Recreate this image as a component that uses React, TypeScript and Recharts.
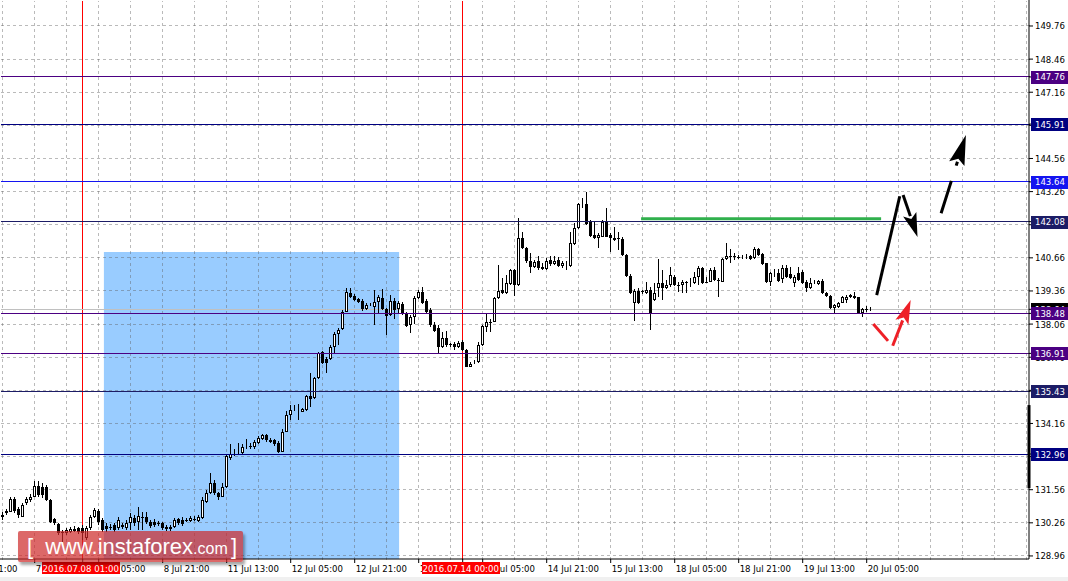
import React from 'react';
import { ComposedChart, Bar, XAxis, YAxis, ReferenceLine, ReferenceArea } from 'recharts';

// H1 bars from 7 Jul 05:00 to 20 Jul 06:00 (2016), [open, high, low, close]
const candles: number[][] = [
  [130.49, 130.69, 130.37, 130.57], [130.64, 130.80, 130.57, 130.74], [130.70, 131.28, 130.69, 131.18], [131.18, 131.28, 130.65, 130.71],
  [130.80, 130.88, 130.45, 130.57], [130.50, 131.04, 130.49, 130.96], [131.04, 131.28, 130.96, 131.20], [131.16, 131.39, 131.08, 131.29],
  [131.29, 131.90, 131.28, 131.71], [131.71, 131.90, 131.28, 131.35], [131.67, 131.82, 131.24, 131.35], [131.67, 131.75, 131.12, 131.16],
  [131.16, 131.20, 130.25, 130.31], [130.41, 130.45, 130.18, 130.27], [130.22, 130.25, 129.78, 129.86], [129.91, 129.98, 129.52, 129.85],
  [129.87, 130.06, 129.78, 129.98], [129.91, 130.10, 129.86, 130.01], [129.95, 130.14, 129.90, 130.03], [130.05, 130.10, 129.82, 129.91],
  [130.06, 130.18, 129.59, 129.87], [129.65, 130.14, 129.59, 130.05], [130.05, 130.57, 129.98, 130.50], [130.50, 130.84, 130.45, 130.77],
  [130.74, 130.80, 130.18, 130.31], [130.37, 130.45, 129.90, 129.98], [130.14, 130.24, 129.91, 130.01], [130.11, 130.22, 129.98, 130.10],
  [130.18, 130.25, 129.90, 129.98], [130.05, 130.48, 129.98, 130.37], [130.18, 130.25, 130.02, 130.09], [130.05, 130.37, 129.98, 130.27],
  [130.24, 130.63, 129.98, 130.48], [130.44, 130.57, 130.14, 130.24], [130.31, 130.89, 129.98, 130.53], [130.48, 130.70, 129.98, 130.46],
  [130.48, 130.70, 130.22, 130.31], [130.31, 130.37, 130.06, 130.14], [130.31, 130.40, 130.10, 130.18], [130.24, 130.33, 130.14, 130.23],
  [130.24, 130.29, 129.98, 130.05], [130.11, 130.18, 129.94, 130.01], [130.02, 130.18, 129.94, 130.10], [130.11, 130.44, 130.06, 130.37],
  [130.40, 130.45, 130.18, 130.24], [130.37, 130.48, 130.14, 130.22], [130.37, 130.45, 130.29, 130.36], [130.35, 130.53, 130.29, 130.44],
  [130.40, 130.53, 130.33, 130.39], [130.35, 130.57, 130.29, 130.48], [130.44, 131.29, 130.41, 131.16], [131.09, 131.55, 131.04, 131.44],
  [131.44, 132.20, 131.39, 131.84], [131.84, 131.94, 131.35, 131.42], [131.42, 131.47, 131.16, 131.29], [131.29, 131.82, 131.28, 131.68],
  [131.68, 132.96, 131.63, 132.88], [132.81, 133.35, 132.73, 132.96], [132.99, 133.15, 132.88, 133.01], [133.00, 133.39, 132.92, 133.03],
  [132.99, 133.35, 132.92, 133.25], [133.24, 133.55, 133.16, 133.26], [133.28, 133.39, 133.16, 133.23], [133.23, 133.51, 133.16, 133.44],
  [133.38, 133.67, 133.35, 133.59], [133.55, 133.75, 133.51, 133.71], [133.71, 133.75, 133.43, 133.51], [133.51, 133.59, 133.39, 133.45],
  [133.51, 133.55, 133.28, 133.35], [133.41, 133.47, 133.00, 133.05], [133.05, 133.93, 133.04, 133.84], [133.84, 134.66, 133.83, 134.49],
  [134.49, 134.89, 134.30, 134.69], [134.68, 134.89, 134.65, 134.70], [134.70, 134.93, 134.30, 134.73], [134.62, 134.77, 134.61, 134.72],
  [134.69, 135.28, 134.65, 135.24], [135.24, 136.13, 134.82, 135.11], [135.15, 135.98, 135.12, 135.93], [135.93, 136.98, 135.91, 136.94],
  [136.98, 137.02, 136.49, 136.55], [136.69, 136.77, 136.13, 136.55], [136.68, 137.24, 136.65, 137.17], [137.17, 137.76, 136.94, 137.67],
  [137.67, 137.90, 137.24, 137.83], [137.86, 138.61, 137.83, 138.55], [138.55, 139.47, 138.54, 139.33], [139.29, 139.48, 139.08, 139.14],
  [139.16, 139.24, 138.97, 139.01], [139.03, 139.08, 138.89, 138.94], [138.98, 139.05, 138.59, 138.64], [138.64, 138.89, 138.61, 138.81],
  [138.80, 138.89, 138.77, 138.82], [138.72, 139.40, 138.02, 138.94], [138.94, 139.20, 138.48, 139.11], [139.07, 139.43, 138.61, 138.64],
  [138.64, 138.69, 137.63, 138.38], [138.42, 139.20, 138.38, 138.98], [138.98, 139.08, 138.25, 138.61], [138.64, 138.97, 138.48, 138.88],
  [138.85, 138.93, 138.42, 138.48], [138.48, 138.54, 137.93, 137.99], [138.02, 138.42, 137.70, 138.35], [138.33, 139.16, 138.06, 139.07],
  [139.07, 139.40, 139.05, 139.33], [139.33, 139.53, 138.85, 138.90], [138.98, 139.05, 138.50, 138.55], [138.61, 138.69, 137.94, 138.02],
  [138.02, 138.14, 137.75, 137.80], [137.91, 138.02, 136.87, 137.16], [137.17, 137.76, 137.11, 137.53], [137.53, 137.79, 137.17, 137.24],
  [137.27, 137.32, 137.16, 137.23], [137.27, 137.37, 137.04, 137.17], [137.17, 137.40, 137.12, 137.31], [137.37, 137.44, 137.00, 137.04],
  [137.04, 137.08, 136.36, 136.39], [136.39, 136.57, 136.38, 136.48], [136.55, 136.65, 136.49, 136.59], [136.56, 137.37, 136.53, 137.24],
  [137.24, 138.02, 137.20, 138.00], [137.96, 138.48, 137.76, 138.13], [138.16, 138.26, 137.74, 138.09], [138.16, 139.12, 138.13, 139.07],
  [139.07, 140.38, 139.05, 139.36], [139.40, 139.86, 139.24, 139.27], [139.27, 139.99, 139.24, 139.66], [139.62, 140.22, 139.59, 140.18],
  [140.18, 140.22, 139.18, 139.59], [139.59, 142.21, 139.56, 141.43], [141.43, 141.69, 141.01, 141.04], [141.04, 141.09, 140.47, 140.54],
  [140.54, 140.84, 140.05, 140.31], [140.31, 140.58, 140.26, 140.49], [140.54, 140.75, 140.18, 140.25], [140.31, 140.46, 140.18, 140.22],
  [140.22, 140.64, 140.18, 140.54], [140.58, 140.75, 140.35, 140.41], [140.41, 140.75, 140.38, 140.54], [140.58, 140.71, 140.30, 140.35],
  [140.35, 140.54, 140.25, 140.44], [140.39, 140.54, 140.18, 140.42], [140.35, 141.66, 140.31, 141.23], [141.19, 142.02, 141.17, 141.82],
  [141.82, 142.80, 141.79, 142.76], [142.76, 143.00, 142.61, 142.80], [142.76, 143.23, 141.95, 141.98], [142.08, 142.15, 141.48, 141.53],
  [141.56, 142.08, 141.40, 141.43], [141.43, 141.64, 141.04, 141.56], [141.49, 142.15, 141.47, 142.08], [142.08, 142.61, 141.47, 141.49],
  [141.56, 141.64, 140.90, 141.43], [141.45, 141.88, 141.32, 141.36], [141.44, 141.69, 140.97, 141.41], [141.40, 141.49, 140.73, 140.77],
  [140.77, 140.81, 139.91, 139.96], [139.96, 140.01, 139.24, 139.27], [138.88, 139.44, 138.18, 139.36], [139.36, 139.47, 138.85, 138.88],
  [139.35, 139.40, 139.23, 139.32], [139.27, 139.70, 139.24, 139.40], [139.40, 139.52, 137.83, 138.48], [139.01, 139.66, 138.97, 139.29],
  [139.47, 140.60, 139.13, 139.69], [139.69, 140.18, 139.01, 139.47], [139.47, 139.79, 139.44, 139.60], [139.59, 140.31, 139.50, 139.99],
  [139.92, 139.99, 139.56, 139.59], [139.61, 139.72, 139.33, 139.58], [139.59, 139.79, 139.29, 139.72], [139.70, 139.75, 139.29, 139.67],
  [139.65, 139.86, 139.50, 139.67], [139.66, 140.12, 139.63, 139.90], [139.90, 140.34, 139.59, 140.25], [140.25, 140.30, 139.63, 139.66],
  [139.72, 139.92, 139.66, 139.70], [139.72, 140.26, 139.70, 140.18], [140.18, 140.29, 139.75, 139.79], [139.80, 139.87, 139.13, 139.78],
  [139.72, 140.65, 139.70, 140.60], [140.60, 141.25, 140.58, 140.73], [140.73, 140.99, 140.45, 140.72], [140.72, 140.84, 140.58, 140.69],
  [140.69, 140.77, 140.62, 140.68], [140.67, 140.77, 140.62, 140.69], [140.72, 140.81, 140.62, 140.73], [140.73, 140.78, 140.58, 140.60],
  [140.64, 141.07, 140.62, 140.99], [140.99, 141.05, 140.73, 140.77], [140.81, 140.85, 140.38, 140.42], [140.45, 140.47, 139.69, 139.72],
  [139.72, 140.12, 139.56, 140.08], [140.07, 140.21, 139.90, 140.08], [140.08, 140.21, 139.71, 139.76], [139.82, 140.38, 139.69, 140.25],
  [140.25, 140.38, 139.87, 139.92], [140.01, 140.29, 139.82, 139.88], [139.66, 139.99, 139.50, 139.90], [140.08, 140.29, 139.75, 139.79],
  [140.12, 140.18, 139.63, 139.69], [139.72, 139.79, 139.32, 139.47], [139.47, 139.86, 139.44, 139.69], [139.67, 139.79, 139.63, 139.69],
  [139.63, 139.79, 139.59, 139.76], [139.76, 139.82, 139.24, 139.27], [139.27, 139.32, 139.12, 139.16], [139.16, 139.20, 138.65, 138.68],
  [138.68, 138.85, 138.51, 138.81], [138.72, 138.93, 138.69, 138.88], [138.90, 139.16, 138.88, 139.11], [139.01, 139.20, 138.90, 139.14],
  [139.11, 139.24, 139.08, 139.20], [139.16, 139.33, 139.05, 139.07], [139.11, 139.14, 138.48, 138.51], [138.51, 138.69, 138.33, 138.64],
  [138.64, 138.77, 138.54, 138.63], [138.63, 138.73, 138.57, 138.64],
];

const priceTicks = [149.76, 148.46, 147.16, 145.86, 144.56, 143.26, 141.96, 140.66, 139.36, 138.06, 136.76, 135.46, 134.16, 132.86, 131.56, 130.26, 128.96];
const timeTicks = [-8, 8, 24, 40, 56, 72, 88, 104, 120, 136, 152, 168, 184, 200, 216];
const timeLabels = ['6 Jul 21:00', '7 Jul 13:00', '8 Jul 05:00', '8 Jul 21:00', '11 Jul 13:00', '12 Jul 05:00', '12 Jul 21:00',
  '13 Jul 13:00', '14 Jul 05:00', '14 Jul 21:00', '15 Jul 13:00', '18 Jul 05:00', '18 Jul 21:00', '19 Jul 13:00', '20 Jul 05:00'];
const gridBars = [0, 8, 16, 24, 32, 40, 48, 56, 64, 72, 80, 88, 96, 104, 112, 120, 128, 136, 144, 152, 160, 168, 176, 184, 192, 200, 208, 216, 224, 232, 240, 248, 256];

const levelValues = [147.76, 145.91, 143.64, 142.08, 138.48, 136.91, 135.43, 132.96];
const bidPrice = 138.64;
const markerBars = [20, 115];
const markerLabels = ['2016.07.08 01:00', '2016.07.14 00:00'];

// drawn objects, in bar index / price units
const zone = { from: 25.3, to: 99.1, top: 140.89 };
const resistance = { from: 159.6, to: 219.6, price: 142.19 };
const axisBar = { from: 131.62, to: 134.88 };
const arrows = [
  [218.5, 139.2, 224.15, 143.0],
  [225.1, 143.13, 228.7, 141.48],
  [234.6, 142.41, 240.8, 145.48],
  [217.65, 138.06, 221.0, 137.46],
  [222.5, 137.21, 227.0, 139.01],
];

const X_DOMAIN = [-0.675, 256.575];
const Y_DOMAIN = [128.84, 150.78];
const FONT = '"DejaVu Sans Condensed", "Liberation Sans", Arial, sans-serif';
const GRID = 'rgba(90,90,90,0.42)';
const levelColors = ['#4B0082', '#000080', '#1414F0', '#1C1C66', '#4B0082', '#4B0082', '#1C1C66', '#000080'];
const arrowStyles = [
  { color: '#000', dash: undefined, head: false },
  { color: '#000', dash: undefined, head: true },
  { color: '#000', dash: '34 16', head: true },
  { color: '#EE2027', dash: undefined, head: false },
  { color: '#EE2027', dash: undefined, head: true },
];

const data = candles.map((c, i) => ({ i, o: c[0], h: c[1], l: c[2], c: c[3] }));

const snap = (v: number) => Math.floor(v) + 0.5;

// 1px line snapped to the pixel grid
const crisp = (stroke: string, dash?: string) => (p: any) => (
  <line x1={snap(p.x1)} y1={snap(p.y1)} x2={snap(p.x2)} y2={snap(p.y2)} stroke={stroke} strokeWidth={1}
    strokeDasharray={dash} shapeRendering="crispEdges" />
);

const Candle = (props: any) => {
  const { x, y, width, height } = props;
  const d = props.payload || props;
  if (x == null || y == null) return null;
  const span = d.h - d.l || 1;
  const py = (v: number) => y + ((d.h - v) / span) * height;
  const cx = Math.floor(x + width / 2);
  const top = Math.round(py(Math.max(d.o, d.c)));
  const bot = Math.round(py(Math.min(d.o, d.c)));
  const up = d.c >= d.o;
  return (
    <g>
      <line x1={cx + 0.5} x2={cx + 0.5} y1={Math.round(y)} y2={Math.round(y + height)} stroke="#000" strokeWidth={1} />
      {up ? (
        <rect x={cx - 0.5} y={top + 0.5} width={2} height={Math.max(bot - top - 1, 0)} fill="#fff" stroke="#000" strokeWidth={1} />
      ) : (
        <rect x={cx - 1} y={top} width={3} height={Math.max(bot - top, 1)} fill="#000" />
      )}
    </g>
  );
};

const PriceTick = (props: any) => {
  const { x, y, payload } = props;
  const v = payload.value;
  const li = levelValues.indexOf(v);
  if (li >= 0 || v === bidPrice) {
    const bg = li >= 0 ? levelColors[li] : '#000';
    return (
      <g>
        <rect x={x - 4} y={Math.round(y) - 6} width={38} height={13} fill={bg} />
        <text x={x} y={y + 3.5} fill="#fff" fontSize={9.5} fontFamily={FONT}>{v.toFixed(2)}</text>
      </g>
    );
  }
  return <text x={x} y={y + 3.5} fill="#000" fontSize={9.5} fontFamily={FONT}>{v.toFixed(2)}</text>;
};

const TimeTick = (props: any) => {
  const { x, y, payload } = props;
  const mi = markerBars.indexOf(payload.value);
  if (mi >= 0) {
    return (
      <g>
        <rect x={Math.round(x) - 41} y={y - 1} width={78} height={12} fill="#FF0000" />
        <text x={x - 2} y={y + 8.5} fill="#fff" fontSize={9.5} fontFamily={FONT} textAnchor="middle">{markerLabels[mi]}</text>
      </g>
    );
  }
  const ti = timeTicks.indexOf(payload.value);
  return <text x={x + 1} y={y + 8.5} fill="#000" fontSize={9.5} fontFamily={FONT}>{timeLabels[ti]}</text>;
};

const Arrow = (props: any, k: number) => {
  const { x1, y1, x2, y2 } = props;
  const st = arrowStyles[k];
  const dx = x2 - x1, dy = y2 - y1;
  const len = Math.sqrt(dx * dx + dy * dy) || 1;
  const ux = dx / len, uy = dy / len;
  const hl = st.dash ? 30 : 24, hw = st.dash ? 8 : 7;
  const bx = st.head ? x2 - ux * hl : x2, by = st.head ? y2 - uy * hl : y2;
  return (
    <g>
      <line x1={x1} y1={y1} x2={bx + ux * 2} y2={by + uy * 2} stroke={st.color} strokeWidth={3} strokeDasharray={st.dash} />
      {st.head && (
        <polygon points={`${x2},${y2} ${bx - uy * hw},${by + ux * hw} ${bx + ux * 5},${by + uy * 5} ${bx + uy * hw},${by - ux * hw}`} fill={st.color} />
      )}
    </g>
  );
};

export default function App() {
  return (
    <div style={{ position: 'absolute', left: 0, top: 0, width: 1068, height: 581, background: '#fff', overflow: 'hidden' }}>
      <ComposedChart width={1068} height={581} data={data} margin={{ top: 0, right: 0, bottom: 0, left: 0 }}>
        <XAxis type="number" dataKey="i" domain={X_DOMAIN} allowDataOverflow ticks={[...timeTicks, ...markerBars]} interval={0}
          tick={TimeTick} tickSize={4} tickMargin={0} height={22} axisLine={{ stroke: '#000' }} tickLine={{ stroke: '#000' }} />
        <YAxis orientation="right" type="number" domain={Y_DOMAIN} allowDataOverflow ticks={[...priceTicks, bidPrice, ...levelValues]}
          interval={0} tick={PriceTick} tickSize={4} tickMargin={2} width={39} axisLine={{ stroke: '#000' }} tickLine={{ stroke: '#000' }} />

        <ReferenceArea x1={zone.from} x2={zone.to} y1={Y_DOMAIN[0]} y2={zone.top} fill="#99CCFF" fillOpacity={1} stroke="none" zIndex={-300} />
        {gridBars.map((g) => (
          <ReferenceLine key={'gx' + g} x={g} shape={crisp(GRID, '3 3')} zIndex={-200} />
        ))}
        {priceTicks.map((p) => (
          <ReferenceLine key={'gy' + p} y={p} shape={crisp(GRID, '3 3')} zIndex={-200} />
        ))}
        {markerBars.map((m) => (
          <ReferenceLine key={'m' + m} x={m} shape={crisp('#FF0000')} zIndex={-100} />
        ))}
        <ReferenceLine y={bidPrice} shape={crisp('#C0C0C0')} zIndex={-100} />

        <Bar dataKey={(d: any) => [d.l, d.h]} barSize={3} shape={(p: any) => <Candle {...p} />} isAnimationActive={false} />

        {levelValues.map((v, n) => (
          <ReferenceLine key={'l' + v} y={v} shape={crisp(levelColors[n])} />
        ))}
        <ReferenceLine segment={[{ x: resistance.from, y: resistance.price }, { x: resistance.to, y: resistance.price }]}
          stroke="#30B04C" strokeWidth={3} />
        <ReferenceLine segment={[{ x: X_DOMAIN[1], y: axisBar.from }, { x: X_DOMAIN[1], y: axisBar.to }]}
          stroke="#000" strokeWidth={3} ifOverflow="visible" />
        {arrows.map((a, k) => (
          <ReferenceLine key={'a' + k} segment={[{ x: a[0], y: a[1] }, { x: a[2], y: a[3] }]} ifOverflow="visible"
            shape={(p: any) => Arrow(p, k)} />
        ))}
      </ComposedChart>

      <div style={{ position: 'absolute', left: 18, top: 531, width: 225, height: 31, background: 'rgba(205,40,40,0.7)',
        boxShadow: '2px 3px 3px rgba(0,0,0,0.35)', borderRadius: 2, color: '#fff', fontFamily: '"Liberation Sans", Arial, sans-serif',
        display: 'flex', alignItems: 'center', boxSizing: 'border-box', padding: '0 6px 0 9px' }}>
        <span style={{ fontSize: 22, marginRight: 12 }}>[</span>
        <span style={{ fontSize: 22 }}>www.instaforex</span>
        <span style={{ fontSize: 16, marginTop: 4 }}>.com</span>
        <span style={{ fontSize: 22, marginLeft: 'auto' }}>]</span>
      </div>
      <div style={{ position: 'absolute', left: 0, top: 577, width: 1068, height: 4, background: '#F0F0F0' }} />
    </div>
  );
}
